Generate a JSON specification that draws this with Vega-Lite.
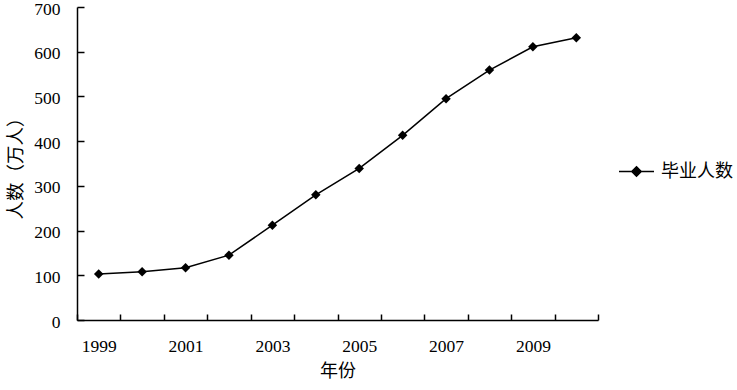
{
  "$schema": "https://vega.github.io/schema/vega-lite/v6.json",
  "width": 521,
  "height": 313,
  "autosize": {"type": "none"},
  "padding": {"left": 77, "top": 7, "right": 139, "bottom": 70},
  "background": "white",
  "data": {
    "values": [
      {"year": "1999", "value": 103, "series": "毕业人数"},
      {"year": "2000", "value": 108, "series": "毕业人数"},
      {"year": "2001", "value": 117, "series": "毕业人数"},
      {"year": "2002", "value": 145, "series": "毕业人数"},
      {"year": "2003", "value": 212, "series": "毕业人数"},
      {"year": "2004", "value": 280, "series": "毕业人数"},
      {"year": "2005", "value": 339, "series": "毕业人数"},
      {"year": "2006", "value": 413, "series": "毕业人数"},
      {"year": "2007", "value": 495, "series": "毕业人数"},
      {"year": "2008", "value": 559, "series": "毕业人数"},
      {"year": "2009", "value": 611, "series": "毕业人数"},
      {"year": "2010", "value": 631, "series": "毕业人数"}
    ]
  },
  "mark": {
    "type": "line",
    "strokeWidth": 1.5,
    "point": {"shape": "diamond", "filled": true, "size": 90, "color": "black", "opacity": 1}
  },
  "encoding": {
    "x": {
      "field": "year",
      "type": "ordinal",
      "scale": {"type": "band", "paddingInner": 0, "paddingOuter": 0},
      "axis": {
        "title": "年份",
        "titleFont": "Noto Sans CJK SC",
        "titleFontSize": 18,
        "titleFontWeight": "normal",
        "titleColor": "black",
        "titlePadding": 8,
        "labelAngle": 0,
        "labelFont": "Liberation Serif",
        "labelFontSize": 17.5,
        "labelColor": "black",
        "labelExpr": "toNumber(datum.value) % 2 == 1 ? datum.label : ''",
        "tickBand": "extent",
        "tickSize": -6,
        "labelPadding": 23,
        "tickColor": "black",
        "tickWidth": 1.5,
        "domainColor": "black",
        "domainWidth": 1.5,
        "grid": false
      }
    },
    "y": {
      "field": "value",
      "type": "quantitative",
      "scale": {"domain": [0, 700], "nice": false},
      "axis": {
        "title": "人数（万人）",
        "titleFont": "Noto Sans CJK SC",
        "titleFontSize": 18.5,
        "titleFontWeight": "normal",
        "titleColor": "black",
        "titlePadding": 8,
        "values": [0, 100, 200, 300, 400, 500, 600, 700],
        "labelFont": "Liberation Serif",
        "labelFontSize": 17.5,
        "labelColor": "black",
        "labelOffset": 2,
        "tickSize": -7,
        "labelPadding": 24,
        "tickColor": "black",
        "tickWidth": 1.5,
        "domainColor": "black",
        "domainWidth": 1.5,
        "grid": false
      }
    },
    "color": {
      "field": "series",
      "type": "nominal",
      "scale": {"range": ["black"]},
      "legend": {
        "title": null,
        "orient": "none",
        "legendX": 541,
        "legendY": 146,
        "symbolType": "M-1,0H1M0,-0.27L0.27,0L0,0.27L-0.27,0Z",
        "symbolSize": 1225,
        "symbolStrokeWidth": 1.5,
        "labelFont": "Noto Sans CJK SC",
        "labelFontSize": 18,
        "labelColor": "black",
        "labelOffset": 6,
        "encode": {
          "symbols": {"update": {"fill": {"value": "black"}, "stroke": {"value": "black"}, "strokeWidth": {"value": 1.5}}}
        }
      }
    }
  },
  "config": {"view": {"stroke": null}}
}
